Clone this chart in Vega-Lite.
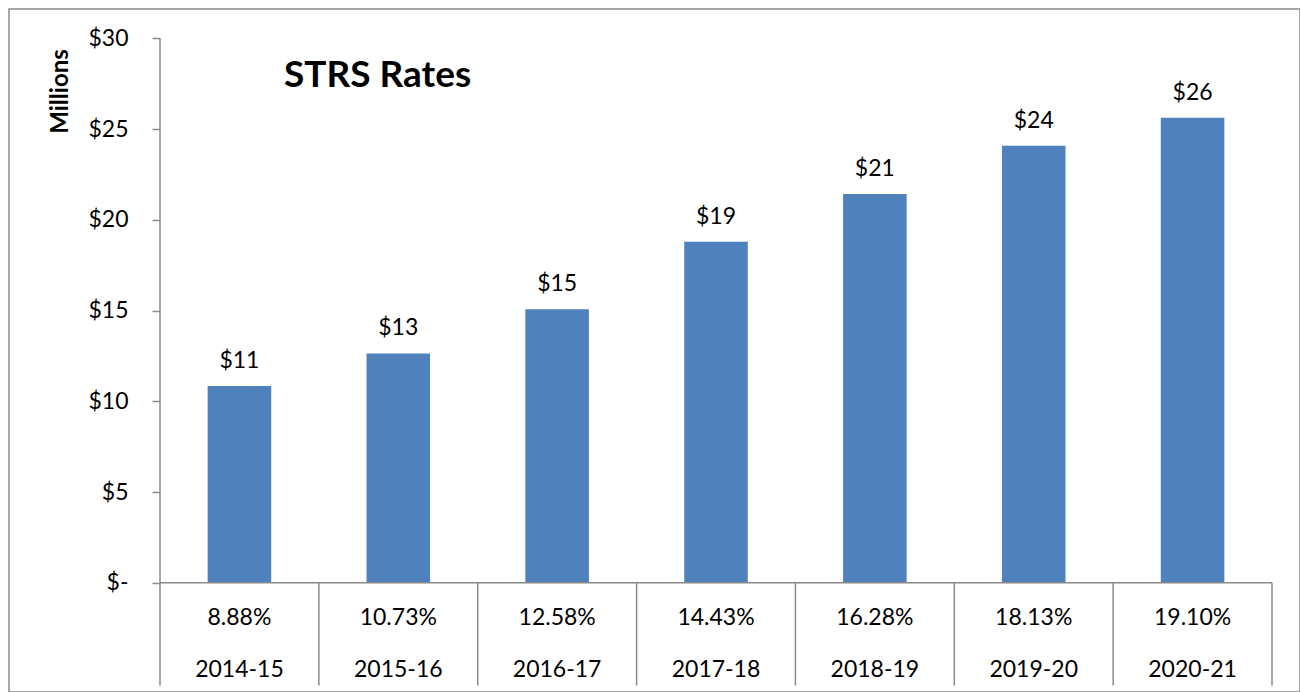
{
  "$schema": "https://vega.github.io/schema/vega-lite/v6.json",
  "autosize": "none",
  "width": 1291,
  "height": 683,
  "padding": {"left": 9, "top": 9, "right": 0, "bottom": 0},
  "background": "white",
  "config": {
    "view": {"stroke": "#8a8a8a", "strokeWidth": 1.5},
    "font": "Lato",
    "text": {"font": "Lato"}
  },
  "title": {
    "text": "STRS Rates",
    "orient": "top",
    "anchor": "start",
    "frame": "group",
    "baseline": "alphabetic",
    "font": "Lato",
    "fontSize": 37,
    "fontWeight": "bold",
    "color": "#000000",
    "offset": 0,
    "dx": 275,
    "dy": 115
  },
  "data": {
    "values": [
      {"year": "2014-15", "pct": "8.88%", "value": 10.84},
      {"year": "2015-16", "pct": "10.73%", "value": 12.64},
      {"year": "2016-17", "pct": "12.58%", "value": 15.07},
      {"year": "2017-18", "pct": "14.43%", "value": 18.8},
      {"year": "2018-19", "pct": "16.28%", "value": 21.43},
      {"year": "2019-20", "pct": "18.13%", "value": 24.09},
      {"year": "2020-21", "pct": "19.10%", "value": 25.63}
    ]
  },
  "encoding": {
    "x": {
      "field": "year",
      "type": "nominal",
      "sort": null,
      "scale": {"paddingInner": 0, "paddingOuter": 0.5634, "align": 0.8436},
      "axis": null
    }
  },
  "layer": [
    {
      "mark": {"type": "bar", "color": "#4F81BD", "width": {"band": 0.4}},
      "encoding": {
        "y": {
          "field": "value",
          "type": "quantitative",
          "scale": {"domain": [-6.025, 31.626], "nice": false, "zero": false},
          "axis": {
            "values": [0, 5, 10, 15, 20, 25, 30],
            "offset": -151,
            "domain": false,
            "grid": false,
            "ticks": true,
            "tickSize": 8,
            "tickColor": "#8a8a8a",
            "tickWidth": 1.5,
            "labelPadding": 24,
            "labelFont": "Lato",
            "labelFontSize": 23,
            "labelColor": "#000000",
            "labelExpr": "datum.value == 0 ? '$-' : '$' + datum.value",
            "title": "Millions",
            "titleFont": "Lato",
            "titleFontSize": 24,
            "titleFontWeight": "bold",
            "titleColor": "#000000",
            "titleAngle": -90,
            "titleAlign": "center",
            "titleBaseline": "middle",
            "titleX": -100,
            "titleY": 82
          }
        },
        "y2": {"datum": 0}
      }
    },
    {
      "mark": {"type": "text", "baseline": "alphabetic", "dy": -18, "fontSize": 23, "color": "#000000"},
      "encoding": {
        "y": {"field": "value", "type": "quantitative"},
        "text": {"field": "value", "type": "quantitative", "format": "$.0f"}
      }
    },
    {
      "mark": {"type": "text", "baseline": "alphabetic", "fontSize": 23, "color": "#000000"},
      "encoding": {
        "y": {"datum": -2.33},
        "text": {"field": "pct", "type": "nominal"}
      }
    },
    {
      "mark": {"type": "text", "baseline": "alphabetic", "fontSize": 23, "color": "#000000"},
      "encoding": {
        "y": {"datum": -5.2},
        "text": {"field": "year", "type": "nominal"}
      }
    },
    {
      "mark": {"type": "rule", "color": "#8a8a8a", "strokeWidth": 1.5},
      "encoding": {
        "x": {"field": "year", "type": "nominal", "bandPosition": 0},
        "y": {"datum": 0},
        "y2": {"datum": -5.67}
      }
    },
    {
      "data": {"values": [{"edge": "axis"}]},
      "layer": [
        {
          "mark": {"type": "rule", "color": "#8a8a8a", "strokeWidth": 1.5},
          "encoding": {
            "x": {"datum": "2014-15", "bandPosition": 0},
            "y": {"datum": 0},
            "y2": {"datum": 30}
          }
        },
        {
          "mark": {"type": "rule", "color": "#8a8a8a", "strokeWidth": 1.5},
          "encoding": {
            "x": {"datum": "2014-15", "bandPosition": 0},
            "x2": {"datum": "2020-21", "bandPosition": 1},
            "y": {"datum": 0}
          }
        },
        {
          "mark": {"type": "rule", "color": "#8a8a8a", "strokeWidth": 1.5},
          "encoding": {
            "x": {"datum": "2020-21", "bandPosition": 1},
            "y": {"datum": 0},
            "y2": {"datum": -5.67}
          }
        }
      ]
    }
  ]
}
